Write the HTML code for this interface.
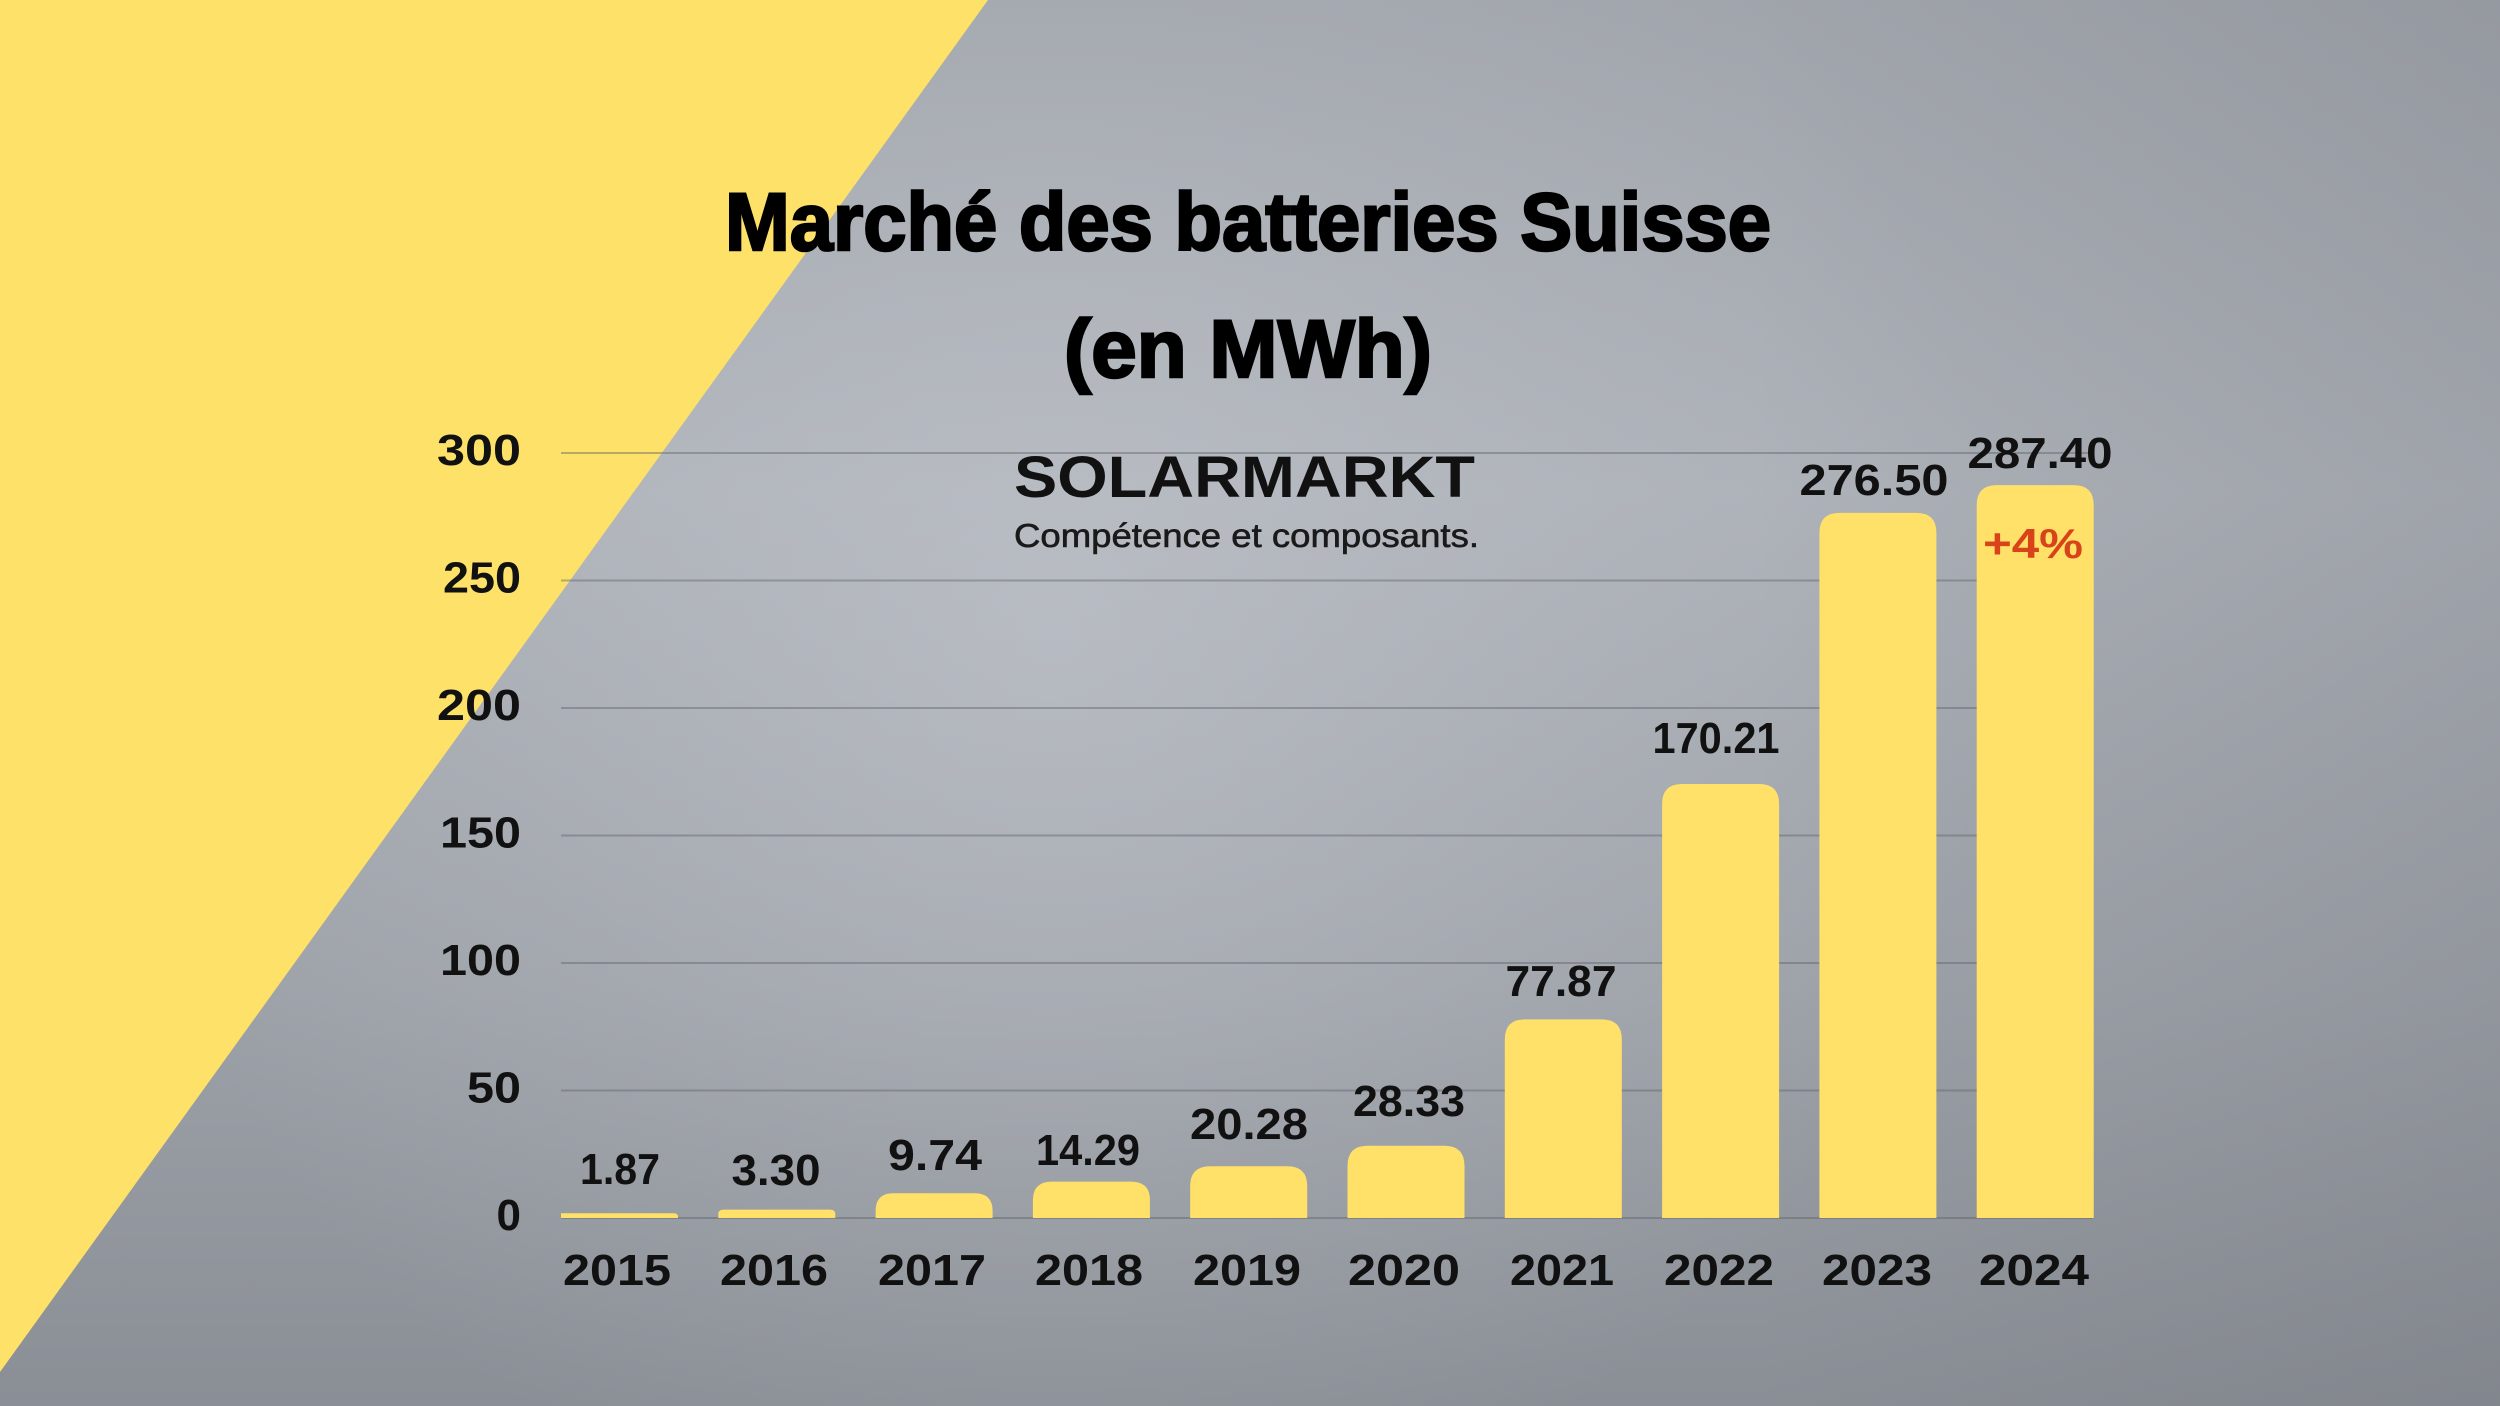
<!DOCTYPE html>
<html>
<head>
<meta charset="utf-8">
<style>
html,body{margin:0;padding:0;background:#9a9ea5;}
svg{display:block;}
text{font-family:"Liberation Sans",sans-serif;}
</style>
</head>
<body>
<svg width="2500" height="1406" viewBox="0 0 2500 1406" xmlns="http://www.w3.org/2000/svg">
<defs>
<linearGradient id="bgv" x1="0" y1="0" x2="0" y2="1">
<stop offset="0" stop-color="#a0a4ab"/>
<stop offset="0.35" stop-color="#acb0b7"/>
<stop offset="0.7" stop-color="#9da1a8"/>
<stop offset="1" stop-color="#8a8e95"/>
</linearGradient>
<radialGradient id="hl" cx="1050" cy="620" r="950" gradientUnits="userSpaceOnUse">
<stop offset="0" stop-color="#c4c8ce" stop-opacity="0.55"/>
<stop offset="0.6" stop-color="#c4c8ce" stop-opacity="0.18"/>
<stop offset="1" stop-color="#c4c8ce" stop-opacity="0"/>
</radialGradient>
<linearGradient id="rd" x1="0" y1="0" x2="1" y2="0">
<stop offset="0.7" stop-color="#50535a" stop-opacity="0"/>
<stop offset="1" stop-color="#50535a" stop-opacity="0.14"/>
</linearGradient>
</defs>
<rect x="0" y="0" width="2500" height="1406" fill="url(#bgv)"/>
<rect x="0" y="0" width="2500" height="1406" fill="url(#hl)"/>
<rect x="0" y="0" width="2500" height="1406" fill="url(#rd)"/>
<polygon points="0,0 988,0 0,1372" fill="#fee168"/>

<!-- gridlines -->
<g stroke="#5f636b" stroke-opacity="0.45" stroke-width="2">
<line x1="561" y1="453" x2="2093" y2="453"/>
<line x1="561" y1="580.5" x2="2093" y2="580.5"/>
<line x1="561" y1="708" x2="2093" y2="708"/>
<line x1="561" y1="835.5" x2="2093" y2="835.5"/>
<line x1="561" y1="963" x2="2093" y2="963"/>
<line x1="561" y1="1090.5" x2="2093" y2="1090.5"/>
<line x1="561" y1="1218" x2="2093" y2="1218"/>
</g>

<!-- y axis labels -->
<g font-size="44" font-weight="bold" fill="#111" text-anchor="end">
<text x="521" y="465" textLength="84" lengthAdjust="spacingAndGlyphs">300</text>
<text x="521" y="592.5" textLength="78" lengthAdjust="spacingAndGlyphs">250</text>
<text x="521" y="720" textLength="84" lengthAdjust="spacingAndGlyphs">200</text>
<text x="521" y="847.5" textLength="81" lengthAdjust="spacingAndGlyphs">150</text>
<text x="521" y="975" textLength="81" lengthAdjust="spacingAndGlyphs">100</text>
<text x="521" y="1102.5" textLength="54" lengthAdjust="spacingAndGlyphs">50</text>
<text x="521" y="1230">0</text>
</g>

<!-- bars -->
<g fill="#ffe169">
<path d="M561,1218 V1213.2 Q561,1213.2 565,1213.2 H674 Q678,1213.2 678,1217 V1218 Z"/>
<path d="M718.3,1218 V1214 Q718.3,1209.6 724,1209.6 H829.6 Q835.3,1209.6 835.3,1214 V1218 Z"/>
<path d="M875.6,1218 V1211 Q875.6,1193.2 893.6,1193.2 H974.6 Q992.6,1193.2 992.6,1211 V1218 Z"/>
<path d="M1032.9,1218 V1200 Q1032.9,1181.6 1051.9,1181.6 H1130.9 Q1149.9,1181.6 1149.9,1200 V1218 Z"/>
<path d="M1190.2,1218 V1186 Q1190.2,1166.3 1210.2,1166.3 H1287.2 Q1307.2,1166.3 1307.2,1186 V1218 Z"/>
<path d="M1347.5,1218 V1166 Q1347.5,1145.8 1367.5,1145.8 H1444.5 Q1464.5,1145.8 1464.5,1166 V1218 Z"/>
<path d="M1504.8,1218 V1039.4 Q1504.8,1019.4 1524.8,1019.4 H1601.8 Q1621.8,1019.4 1621.8,1039.4 V1218 Z"/>
<path d="M1662.1,1218 V804 Q1662.1,784 1682.1,784 H1759.1 Q1779.1,784 1779.1,804 V1218 Z"/>
<path d="M1819.4,1218 V532.9 Q1819.4,512.9 1839.4,512.9 H1916.4 Q1936.4,512.9 1936.4,532.9 V1218 Z"/>
<path d="M1976.7,1218 V505.1 Q1976.7,485.1 1996.7,485.1 H2073.7 Q2093.7,485.1 2093.7,505.1 V1218 Z"/>
</g>

<!-- value labels -->
<g font-size="44" font-weight="bold" fill="#111" text-anchor="middle">
<text x="620" y="1184" textLength="80" lengthAdjust="spacingAndGlyphs">1.87</text>
<text x="776" y="1185" textLength="89" lengthAdjust="spacingAndGlyphs">3.30</text>
<text x="935" y="1170" textLength="94" lengthAdjust="spacingAndGlyphs">9.74</text>
<text x="1088" y="1165" textLength="104" lengthAdjust="spacingAndGlyphs">14.29</text>
<text x="1249" y="1139" textLength="118" lengthAdjust="spacingAndGlyphs">20.28</text>
<text x="1409" y="1116" textLength="112" lengthAdjust="spacingAndGlyphs">28.33</text>
<text x="1561" y="996" textLength="111" lengthAdjust="spacingAndGlyphs">77.87</text>
<text x="1716" y="753" textLength="127" lengthAdjust="spacingAndGlyphs">170.21</text>
<text x="1874" y="495" textLength="149" lengthAdjust="spacingAndGlyphs">276.50</text>
<text x="2040" y="468" textLength="145" lengthAdjust="spacingAndGlyphs">287.40</text>
</g>

<text x="2033" y="558" font-size="42" font-weight="bold" fill="#d8431a" text-anchor="middle" textLength="100" lengthAdjust="spacingAndGlyphs">+4%</text>

<!-- year labels -->
<g font-size="44" font-weight="bold" fill="#111" text-anchor="middle">
<text x="617" y="1285" textLength="108" lengthAdjust="spacingAndGlyphs">2015</text>
<text x="774" y="1285" textLength="108" lengthAdjust="spacingAndGlyphs">2016</text>
<text x="932" y="1285" textLength="108" lengthAdjust="spacingAndGlyphs">2017</text>
<text x="1089" y="1285" textLength="108" lengthAdjust="spacingAndGlyphs">2018</text>
<text x="1247" y="1285" textLength="108" lengthAdjust="spacingAndGlyphs">2019</text>
<text x="1404" y="1285" textLength="112" lengthAdjust="spacingAndGlyphs">2020</text>
<text x="1562" y="1285" textLength="104" lengthAdjust="spacingAndGlyphs">2021</text>
<text x="1719" y="1285" textLength="110" lengthAdjust="spacingAndGlyphs">2022</text>
<text x="1877" y="1285" textLength="110" lengthAdjust="spacingAndGlyphs">2023</text>
<text x="2034" y="1285" textLength="110" lengthAdjust="spacingAndGlyphs">2024</text>
</g>

<!-- title -->
<g font-size="82" font-weight="bold" fill="#000" stroke="#000" stroke-width="2.5" text-anchor="middle">
<text x="1248" y="250" textLength="1046" lengthAdjust="spacingAndGlyphs">Marché des batteries Suisse</text>
<text x="1248" y="377" textLength="368" lengthAdjust="spacingAndGlyphs">(en MWh)</text>
</g>

<!-- logo -->
<text x="1014" y="497" font-size="58" font-weight="bold" fill="#111" textLength="461" lengthAdjust="spacingAndGlyphs">SOLARMARKT</text>
<text x="1014" y="547" font-size="33" fill="#1a1a1a" stroke="#1a1a1a" stroke-width="0.6" textLength="465" lengthAdjust="spacingAndGlyphs">Compétence et composants.</text>
</svg>
</body>
</html>
